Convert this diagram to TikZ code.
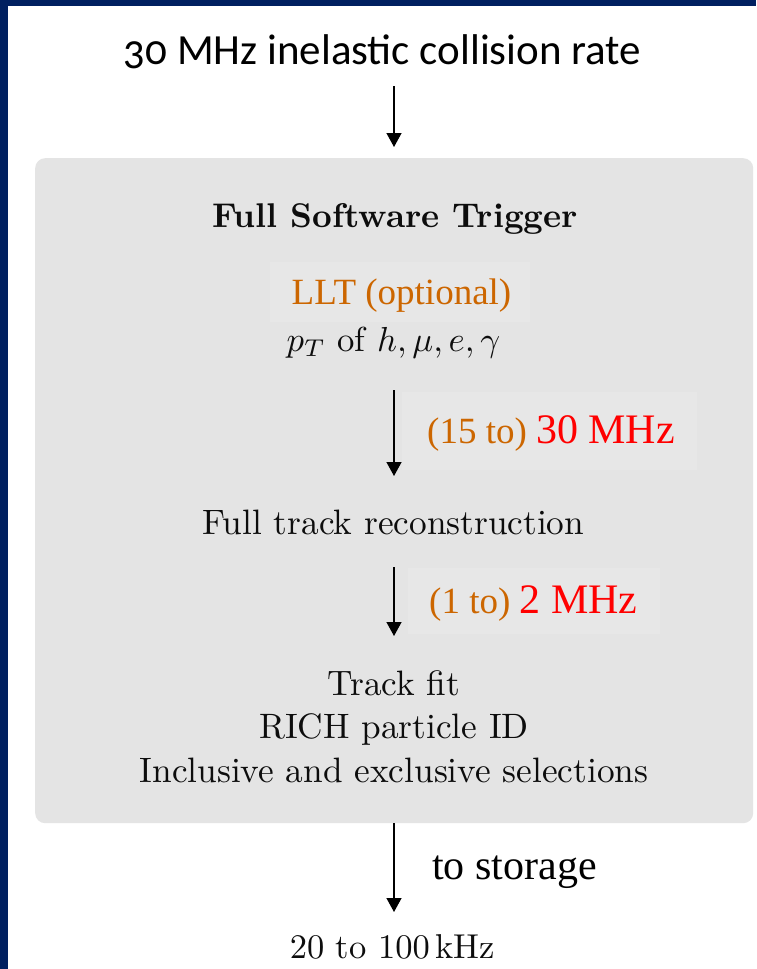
\documentclass[tikz,border=0pt]{standalone}
\usepackage{fontspec}
\usetikzlibrary{arrows.meta}
\newfontfamily\calib{Carlito}[Numbers=OldStyle]
\newfontfamily\tnr{Liberation Serif}
\definecolor{lltorange}{RGB}{204,102,0}
\definecolor{navy}{RGB}{0,32,96}
\definecolor{boxgray}{RGB}{228,228,228}
\definecolor{litegray}{RGB}{231,231,231}
\tikzset{
  arr/.style={-{Triangle[width=15pt,length=14pt]}, line width=1.3pt, black},
  lmtext/.style={anchor=base, inner sep=0pt, text=black!95},
  serifsmall/.style={font=\tnr\fontsize{37}{40}\selectfont, inner sep=0pt},
}
\begin{document}
\begin{tikzpicture}[x=1pt,y=-1pt]
\useasboundingbox (0,0) rectangle (756,969);
\fill[white] (0,0) rectangle (756,969);
\fill[navy] (0,0) rectangle (8,969);
\fill[navy] (0,0) rectangle (756,6);

% main grey box
\node[fill=boxgray, rounded corners=10pt, minimum width=718pt, minimum height=665pt,
      anchor=north west, inner sep=0pt] (box) at (35,158) {};
% faint label backgrounds
\fill[litegray] (270,262) rectangle (530,322);
\fill[litegray] (402,392) rectangle (697,470);
\fill[litegray] (408,568) rectangle (660,634);

% texts
\node[anchor=base, inner sep=0pt, font=\calib\fontsize{43}{50}\selectfont] (src) at (382.5,64) {30 MHz inelastic collision rate};
\node[lmtext] (fst) at (395,227) {\scalebox{3.43}{\bfseries Full Software Trigger}};
\node[serifsmall, anchor=base, text=lltorange] (llt) at (401.5,304) {LLT (optional)};
\node[lmtext] (pt) at (393.5,351) {\scalebox{3.47}{$p_T$ of $h, \mu, e, \gamma$}};
\node[serifsmall, anchor=base west, text=lltorange] (r1) at (427,443) {(15 to) \textcolor{red}{\fontsize{42}{44}\selectfont 30 MHz}};
\node[lmtext] (ftr) at (393.5,534) {\scalebox{3.53}{Full track reconstruction}};
\node[serifsmall, anchor=base west, text=lltorange] (r2) at (429,613) {(1 to) \textcolor{red}{\fontsize{42}{44}\selectfont 2 MHz}};
\node[lmtext] (sel) at (394,695) {\scalebox{3.53}{\renewcommand\arraystretch{1.03}\begin{tabular}[t]{@{}c@{}}Track fit\\RICH particle ID\\Inclusive and exclusive selections\end{tabular}}};
\node[anchor=base west, inner sep=0pt] (sto) at (432,879) {\tnr\fontsize{42}{44}\selectfont to storage};
\node[lmtext] (out) at (392.5,958) {\scalebox{3.45}{$20$ to $100\,$kHz}};

% arrow end points
\coordinate (a1s) at (394,86);
\coordinate (a1e) at (394,147);
\coordinate (a2s) at (394,390);
\coordinate (a2e) at (394,476);
\coordinate (a3s) at (394,567);
\coordinate (a3e) at (394,636);
\coordinate (a4e) at (394,912);

\draw[arr] (a1s) -- (a1e);
\draw[arr] (a2s) -- (a2e);
\draw[arr] (a3s) -- (a3e);
\draw[arr] (box.south -| a4e) -- (a4e);
\end{tikzpicture}
\end{document}
